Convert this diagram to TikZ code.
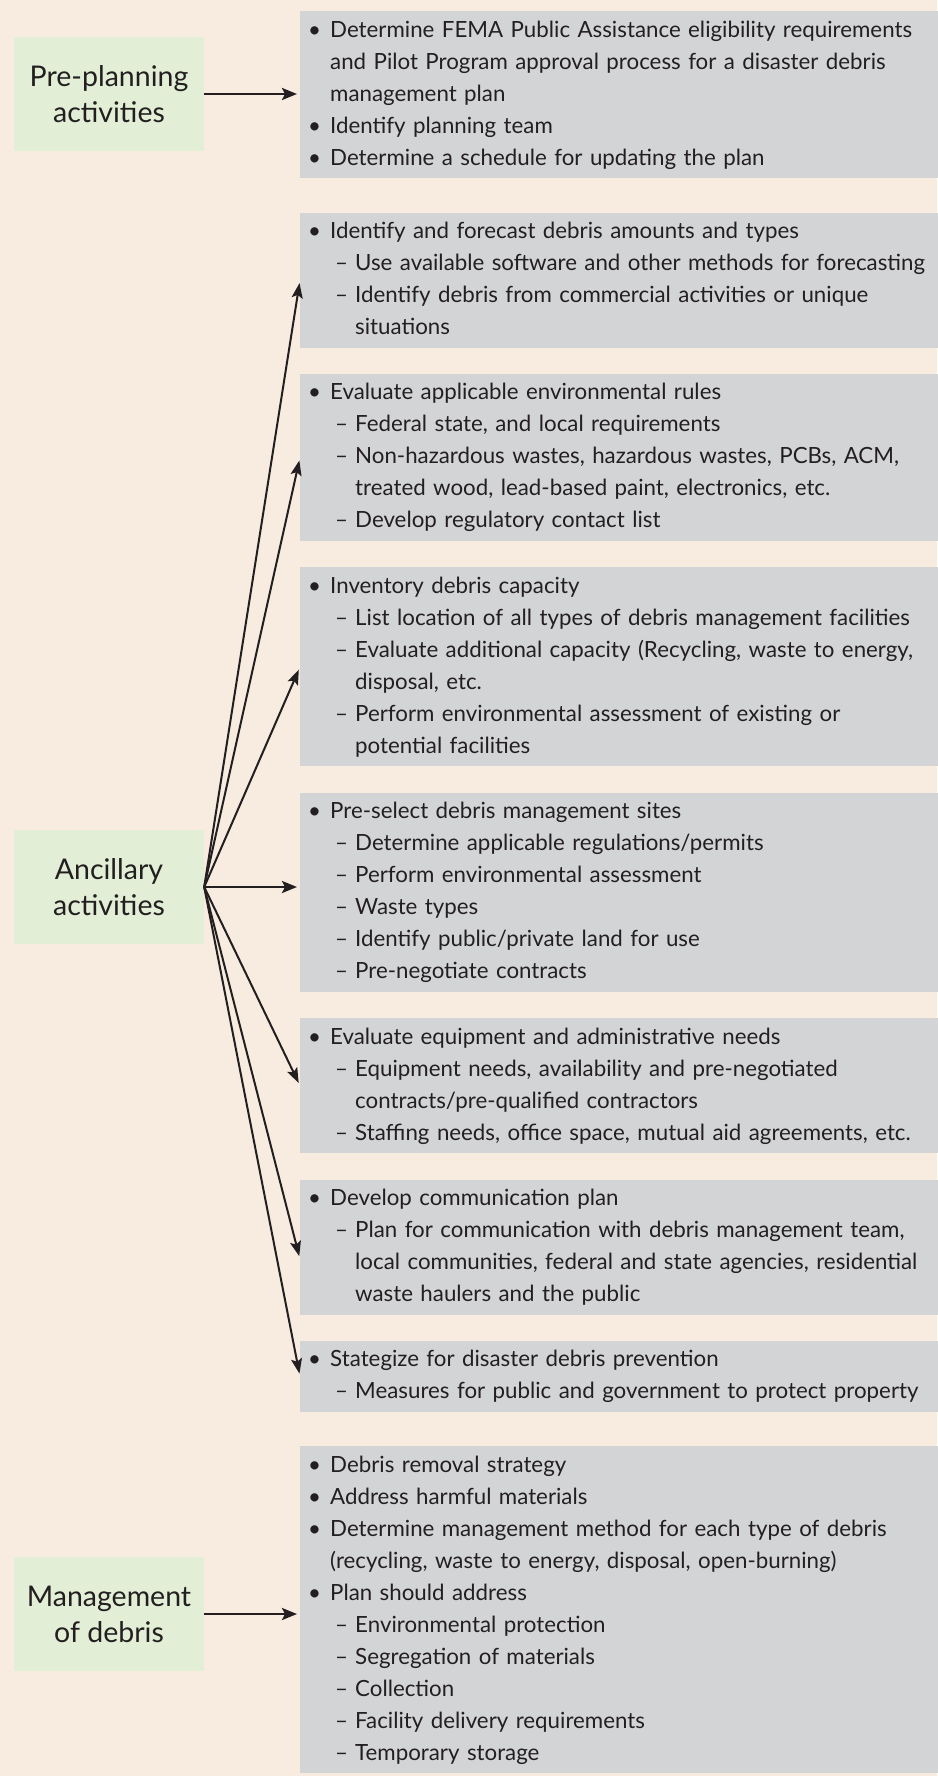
\documentclass[tikz,border=0pt]{standalone}
\usepackage{fontspec}
\setmainfont{Lato}
\usetikzlibrary{positioning,arrows.meta}

\definecolor{sfondo}{RGB}{248,236,225}
\definecolor{grigio}{RGB}{211,212,214}
\definecolor{verde}{RGB}{226,239,214}
\definecolor{inchiostro}{RGB}{35,31,32}

% righe degli elenchi
\newcommand{\bi}[1]{\strut\makebox[17pt][l]{\hspace*{-5pt}\textbullet}#1}
\newcommand{\bc}[1]{\strut\hspace*{17pt}#1}
\newcommand{\di}[1]{\strut\hspace*{22pt}\makebox[20pt][l]{--}#1}
\newcommand{\dc}[1]{\strut\hspace*{42pt}#1}

\begin{document}
\begin{tikzpicture}[x=1pt, y=-1pt,
		elenco/.style={fill=grigio, text=inchiostro, inner xsep=13pt, inner ysep=3.5pt,
			text width=640pt, align=left, font=\fontsize{22.3}{32}\selectfont},
		fase/.style={fill=verde, text=inchiostro, minimum width=190pt, minimum height=114pt,
			align=center, font=\fontsize{28.5}{36}\selectfont},
		freccia/.style={color=inchiostro, line width=2.6pt, shorten >=3pt, -{Stealth[length=15pt, width=12pt, inset=3pt]}},
		ventaglio/.style={color=inchiostro, line width=2pt, shorten >=3pt, -{Stealth[length=15pt, width=11pt, inset=3pt]}},
		node distance=26pt]
		% sfondo
		\fill[color=sfondo] (0,0) rectangle (937,1776);
		\useasboundingbox (0,0) rectangle (937,1776);
		
		% riquadri grigi
		\node[elenco, anchor=north west] (b1) at (300,11) {\bi{Determine FEMA Public Assistance eligibility requirements}\\
			\bc{and Pilot Program approval process for a disaster debris}\\
			\bc{management plan}\\
			\bi{Identify planning team}\\
			\bi{Determine a schedule for updating the plan}};
		\node[elenco, below=34pt of b1] (b2) {\bi{Identify and forecast debris amounts and types}\\
			\di{Use available software and other methods for forecasting}\\
			\di{Identify debris from commercial activities or unique}\\
			\dc{situations}};
		\node[elenco, below=of b2] (b3) {\bi{Evaluate applicable environmental rules}\\
			\di{Federal state, and local requirements}\\
			\di{Non-hazardous wastes, hazardous wastes, PCBs, ACM,}\\
			\dc{treated wood, lead-based paint, electronics, etc.}\\
			\di{Develop regulatory contact list}};
		\node[elenco, below=of b3] (b4) {\bi{Inventory debris capacity}\\
			\di{List location of all types of debris management facilities}\\
			\di{Evaluate additional capacity (Recycling, waste to energy,}\\
			\dc{disposal, etc.}\\
			\di{Perform environmental assessment of existing or}\\
			\dc{potential facilities}};
		\node[elenco, below=of b4] (b5) {\bi{Pre-select debris management sites}\\
			\di{Determine applicable regulations/permits}\\
			\di{Perform environmental assessment}\\
			\di{Waste types}\\
			\di{Identify public/private land for use}\\
			\di{Pre-negotiate contracts}};
		\node[elenco, below=of b5] (b6) {\bi{Evaluate equipment and administrative needs}\\
			\di{Equipment needs, availability and pre-negotiated}\\
			\dc{contracts/pre-qualified contractors}\\
			\di{Staffing needs, office space, mutual aid agreements, etc.}};
		\node[elenco, below=of b6] (b7) {\bi{Develop communication plan}\\
			\di{Plan for communication with debris management team,}\\
			\dc{local communities, federal and state agencies, residential}\\
			\dc{waste haulers and the public}};
		\node[elenco, below=of b7] (b8) {\bi{Stategize for disaster debris prevention}\\
			\di{Measures for public and government to protect property}};
		\node[elenco, below=34pt of b8] (b9) {\bi{Debris removal strategy}\\
			\bi{Address harmful materials}\\
			\bi{Determine management method for each type of debris}\\
			\bc{(recycling, waste to energy, disposal, open-burning)}\\
			\bi{Plan should address}\\
			\di{Environmental protection}\\
			\di{Segregation of materials}\\
			\di{Collection}\\
			\di{Facility delivery requirements}\\
			\di{Temporary storage}};
		
		% riquadri verdi
		\node[fase] (g1) at (109,94) {Pre-planning\\activities};
		\node[fase] (g2) at (109,887) {Ancillary\\activities};
		\node[fase] (g3) at (109,1614) {Management\\of debris};
		
		% frecce
		\draw[freccia] (g1.east) -- (g1.east -| b1.west);
		\draw[freccia] (g3.east) -- (g3.east -| b9.west);
		\draw[freccia] (g2.east) -- (g2.east -| b5.west);
		\foreach \b in {b2,b3,b4,b6,b8}
			\draw[ventaglio] (g2.east) -- (\b.west);
		\draw[ventaglio] (g2.east) -- ([yshift=-12pt]b7.west);
	\end{tikzpicture}
\end{document}
